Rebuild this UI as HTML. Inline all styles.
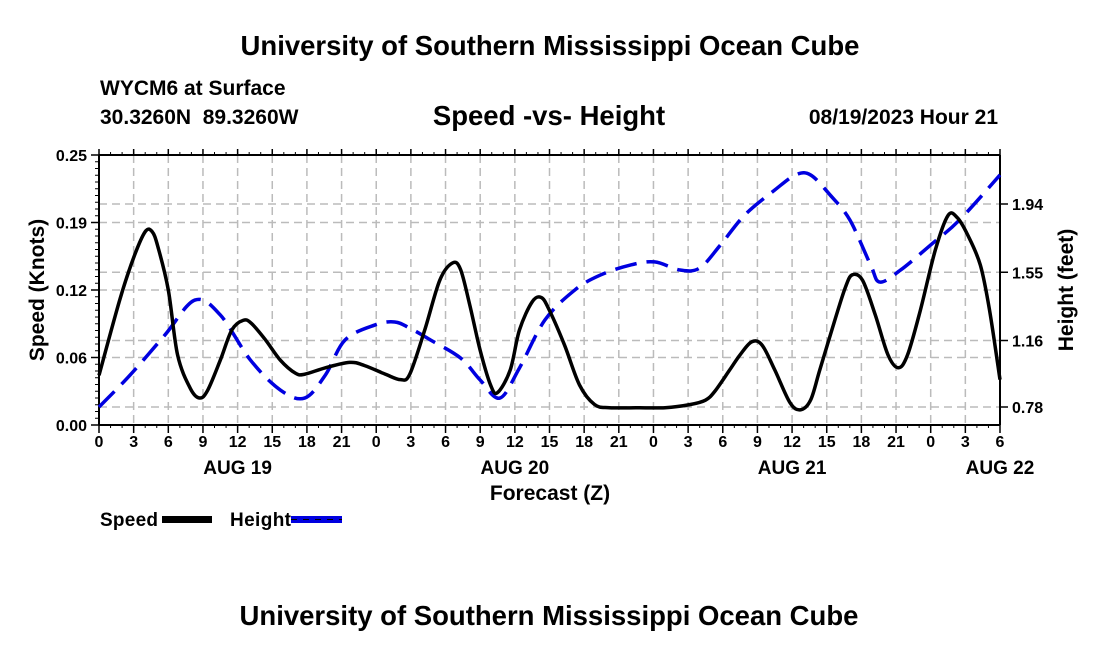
<!DOCTYPE html>
<html><head><meta charset="utf-8"><style>
body{margin:0;background:#fff;width:1100px;height:650px;overflow:hidden}
svg text{font-family:"Liberation Sans",Arial,sans-serif;font-weight:bold;fill:#000}
</style></head><body>
<svg id="c" width="1100" height="650">
<text x="550" y="55" font-size="27.5" text-anchor="middle">University of Southern Mississippi Ocean Cube</text>
<text x="100" y="95" font-size="21">WYCM6 at Surface</text>
<text x="100" y="124" font-size="21" xml:space="preserve">30.3260N  89.3260W</text>
<text x="549" y="125" font-size="27.5" text-anchor="middle">Speed -vs- Height</text>
<text x="998" y="124" font-size="21" text-anchor="end">08/19/2023 Hour 21</text>
<text x="549" y="625" font-size="27.5" text-anchor="middle">University of Southern Mississippi Ocean Cube</text>
<g id="grid"></g><g id="axes"></g><g id="series"></g>
<text x="550" y="500" font-size="21" text-anchor="middle">Forecast (Z)</text>
<text transform="translate(44,290) rotate(-90)" font-size="21" text-anchor="middle">Speed (Knots)</text>
<text transform="translate(1073,290) rotate(-90)" font-size="21" text-anchor="middle">Height (feet)</text>
<g><text x="100" y="526" font-size="19" textLength="58">Speed</text><rect x="162" y="516" width="50" height="7" fill="#000"/></g>
<g><text x="230" y="526" font-size="19" textLength="61">Height</text><rect x="291" y="516" width="51" height="7" fill="#0000e0"/><line x1="291" y1="519.5" x2="342" y2="519.5" stroke="#000" stroke-width="1" stroke-dasharray="6,6"/></g>
</svg>
<script>
const xTickLabels=["0","3","6","9","12","15","18","21","0","3","6","9","12","15","18","21","0","3","6","9","12","15","18","21","0","3","6"];
const dayLabels=["AUG 19","AUG 20","AUG 21","AUG 22"];
const dayHours=[12,36,60,78];
const speedTicks=[0,0.0625,0.125,0.1875,0.25];
const speedTickLabels=["0.00","0.06","0.12","0.19","0.25"];
const heightTicks=[0.78,1.16,1.55,1.94];
const speedHours=[0,1.8,3,4,4.6,5.1,6,6.8,7.9,8.7,9.4,10.5,11.5,12.5,13.2,14.4,15.7,17,17.8,19.6,21.7,23,24.8,26.1,26.9,28.2,29.5,30.6,31.3,32.1,33,33.9,34.5,35.6,36.4,37.5,38.3,39,40.3,41.6,42.9,44.2,46.8,49,51.2,52.5,53.3,54.6,55.5,56.5,57.4,58.5,59.8,60.7,61.6,62.4,63.7,64.6,65.2,66.1,67.2,68.3,69.2,70,71.1,72.4,73.5,74.3,75.2,76.3,77.1,78];
const speedValues=[.046,.116,.155,.179,.179,.165,.125,.065,.034,.025,.032,.060,.088,.097,.094,.079,.060,.048,.047,.053,.058,.055,.047,.042,.047,.088,.134,.150,.144,.111,.069,.037,.030,.051,.088,.114,.118,.106,.074,.037,.019,.016,.016,.016,.019,.023,.031,.051,.065,.077,.074,.051,.021,.014,.023,.051,.097,.127,.139,.134,.102,.065,.053,.065,.106,.162,.194,.192,.176,.148,.106,.042];
const heightHours=[0,2.7,5.7,8.3,10.5,13.1,15.7,17.8,19.6,21.3,23.9,25.6,26.9,28.7,31.3,33,34.7,36.4,38.6,41.2,43.4,46,48.1,50.3,52,53.8,55.9,58.5,60.3,61.6,63.3,65,66.8,67.6,69.4,72,74.5,78];
const heightValues=[.78,.963,1.191,1.391,1.306,1.049,.877,.831,.963,1.163,1.249,1.266,1.231,1.163,1.06,.934,.831,1.003,1.277,1.449,1.534,1.591,1.609,1.563,1.574,1.706,1.877,2.02,2.106,2.106,1.991,1.849,1.591,1.494,1.563,1.706,1.849,2.106];

const L=99,R=1000,T=155,B=425,HMAX=78;
const X=h=>L+(R-L)*h/HMAX;
const YS=v=>B-(B-T)*v/0.25;
const YH=v=>407-(v-0.78)*175;
const NS="http://www.w3.org/2000/svg";
function mk(tag,attrs,parent){const e=document.createElementNS(NS,tag);for(const k in attrs)e.setAttribute(k,attrs[k]);document.getElementById(parent).appendChild(e);return e;}
xTickLabels.forEach((t,i)=>{const x=X(i*3);
 if(i>0&&i<xTickLabels.length-1){const g=mk('line',{x1:x,x2:x,y1:T,y2:B,stroke:'#bbb','stroke-width':1.5,'stroke-dasharray':'8,5'},'grid');
 
 }
 const tk=mk('line',{x1:x,x2:x,y1:B,y2:B+8,stroke:'#000','stroke-width':1.5},'axes');
 
 
 mk('line',{x1:x,x2:x,y1:T,y2:T-6,stroke:'#000','stroke-width':1.5},'axes');
 const tx=mk('text',{x:x,y:B+22,'font-size':16,'text-anchor':'middle'},'axes');tx.textContent=t;
 
 
});
for(let h=0;h<=HMAX;h++){mk('line',{x1:X(h),x2:X(h),y1:B,y2:B+3,stroke:'#000'},'axes');mk('line',{x1:X(h),x2:X(h),y1:T,y2:T-3,stroke:'#000'},'axes');}
dayLabels.forEach((d,i)=>{const tx=mk('text',{x:X(dayHours[i]),y:B+49,'font-size':19,'text-anchor':'middle'},'axes');tx.textContent=d;
 
 });
speedTicks.forEach((v,i)=>{const y=YS(v);
 if(i>0&&i<speedTicks.length-1){const g=mk('line',{x1:L,x2:R,y1:y,y2:y,stroke:'#bbb','stroke-width':1.5,'stroke-dasharray':'8,5'},'grid');
 
 }
 mk('line',{x1:L-8,x2:L,y1:y,y2:y,stroke:'#000','stroke-width':1.5},'axes');
 const tx=mk('text',{x:L-12,y:y+6,'font-size':16,'text-anchor':'end'},'axes');tx.textContent=speedTickLabels[i];
 
 });
for(let k=0;k<=40;k++){const y=B-(B-T)*k/40;mk('line',{x1:L-4,x2:L,y1:y,y2:y,stroke:'#000'},'axes');}
heightTicks.forEach(v=>{const y=YH(v);
 const g=mk('line',{x1:L,x2:R,y1:y,y2:y,stroke:'#bbb','stroke-width':1.5,'stroke-dasharray':'8,5'},'grid');
 
 
 mk('line',{x1:R,x2:R+8,y1:y,y2:y,stroke:'#000','stroke-width':1.5},'axes');
 const tx=mk('text',{x:R+12,y:y+6,'font-size':16},'axes');tx.textContent=v.toFixed(2);
 
 });
mk('line',{x1:L,x2:L,y1:T,y2:B,stroke:'#000','stroke-width':2},'axes');
mk('line',{x1:R,x2:R,y1:T,y2:B,stroke:'#000','stroke-width':2},'axes');
mk('line',{x1:L,x2:R,y1:B,y2:B,stroke:'#000','stroke-width':2},'axes');
mk('line',{x1:L,x2:R,y1:T,y2:T,stroke:'#000','stroke-width':2},'axes');
function smooth(pts){let d=`M${pts[0][0]},${pts[0][1]}`;for(let i=0;i<pts.length-1;i++){const p0=pts[Math.max(0,i-1)],p1=pts[i],p2=pts[i+1],p3=pts[Math.min(pts.length-1,i+2)];
 d+=` C${p1[0]+(p2[0]-p0[0])/6},${p1[1]+(p2[1]-p0[1])/6} ${p2[0]-(p3[0]-p1[0])/6},${p2[1]-(p3[1]-p1[1])/6} ${p2[0]},${p2[1]}`;}return d;}
const hp=mk('path',{d:smooth(heightHours.map((h,i)=>[X(h),YH(heightValues[i])])),fill:'none',stroke:'#0000e0','stroke-width':3.5,'stroke-dasharray':'22,10'},'series');


const sp=mk('path',{d:smooth(speedHours.map((h,i)=>[X(h),YS(speedValues[i])])),fill:'none',stroke:'#000','stroke-width':3.5},'series');


</script>
</body></html>
